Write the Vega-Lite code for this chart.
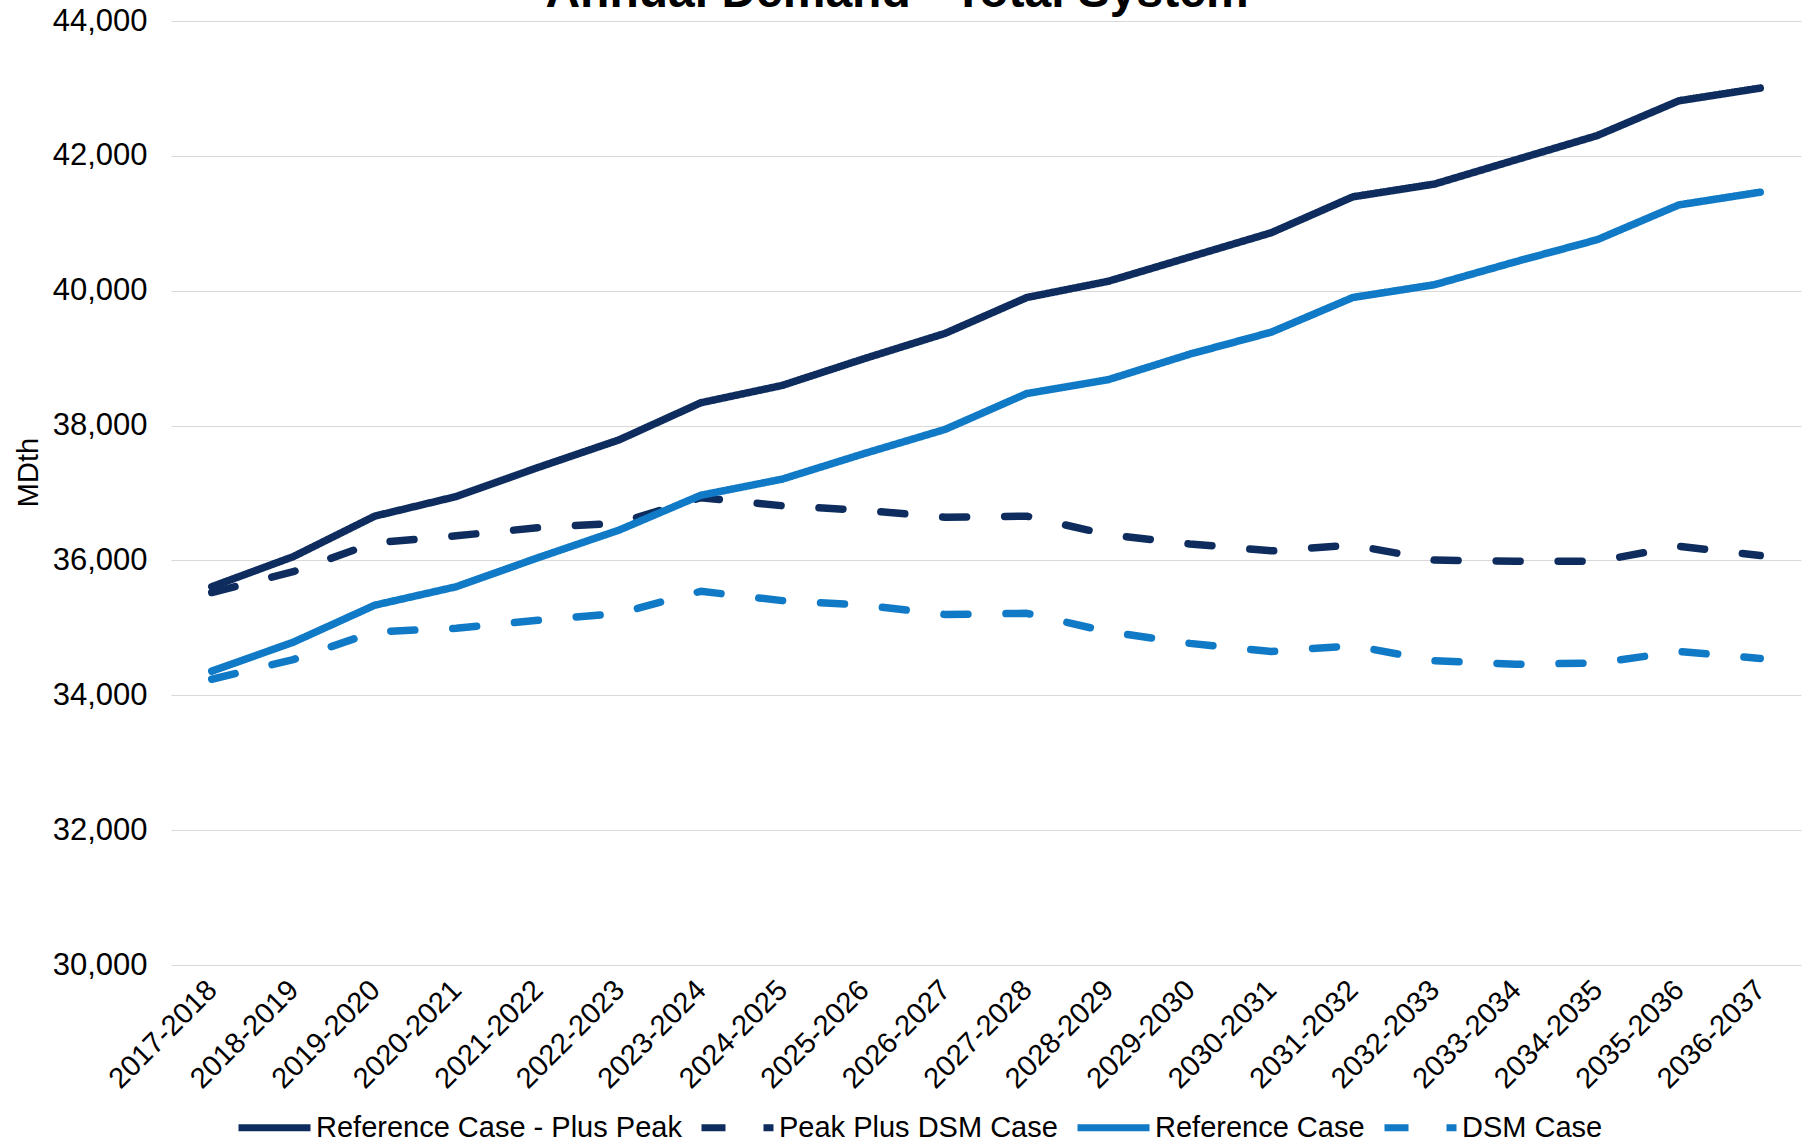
{
  "$schema": "https://vega.github.io/schema/vega-lite/v6.json",
  "autosize": {"type": "none"},
  "width": 1630,
  "height": 944,
  "padding": {"left": 171, "top": 21, "right": 13, "bottom": 178},
  "background": "white",
  "title": {
    "text": "Annual Demand - Total System",
    "anchor": "middle",
    "frame": "group",
    "fontSize": 48,
    "fontWeight": "bold",
    "font": "Liberation Sans",
    "color": "#000000",
    "baseline": "bottom",
    "offset": -60,
    "dx": -89
  },
  "config": {
    "font": "Liberation Sans",
    "view": {"stroke": null}
  },
  "data": {
    "values": [
      {"year": "2017-2018", "series": "Reference Case - Plus Peak", "value": 35610},
      {"year": "2018-2019", "series": "Reference Case - Plus Peak", "value": 36056},
      {"year": "2019-2020", "series": "Reference Case - Plus Peak", "value": 36657},
      {"year": "2020-2021", "series": "Reference Case - Plus Peak", "value": 36948},
      {"year": "2021-2022", "series": "Reference Case - Plus Peak", "value": 37377},
      {"year": "2022-2023", "series": "Reference Case - Plus Peak", "value": 37789},
      {"year": "2023-2024", "series": "Reference Case - Plus Peak", "value": 38338},
      {"year": "2024-2025", "series": "Reference Case - Plus Peak", "value": 38596},
      {"year": "2025-2026", "series": "Reference Case - Plus Peak", "value": 38990},
      {"year": "2026-2027", "series": "Reference Case - Plus Peak", "value": 39368},
      {"year": "2027-2028", "series": "Reference Case - Plus Peak", "value": 39899},
      {"year": "2028-2029", "series": "Reference Case - Plus Peak", "value": 40140},
      {"year": "2029-2030", "series": "Reference Case - Plus Peak", "value": 40500},
      {"year": "2030-2031", "series": "Reference Case - Plus Peak", "value": 40860},
      {"year": "2031-2032", "series": "Reference Case - Plus Peak", "value": 41392},
      {"year": "2032-2033", "series": "Reference Case - Plus Peak", "value": 41581},
      {"year": "2033-2034", "series": "Reference Case - Plus Peak", "value": 41941},
      {"year": "2034-2035", "series": "Reference Case - Plus Peak", "value": 42301},
      {"year": "2035-2036", "series": "Reference Case - Plus Peak", "value": 42816},
      {"year": "2036-2037", "series": "Reference Case - Plus Peak", "value": 43005},

      {"year": "2017-2018", "series": "Peak Plus DSM Case", "value": 35524},
      {"year": "2018-2019", "series": "Peak Plus DSM Case", "value": 35833},
      {"year": "2019-2020", "series": "Peak Plus DSM Case", "value": 36262},
      {"year": "2020-2021", "series": "Peak Plus DSM Case", "value": 36365},
      {"year": "2021-2022", "series": "Peak Plus DSM Case", "value": 36485},
      {"year": "2022-2023", "series": "Peak Plus DSM Case", "value": 36554},
      {"year": "2023-2024", "series": "Peak Plus DSM Case", "value": 36931},
      {"year": "2024-2025", "series": "Peak Plus DSM Case", "value": 36811},
      {"year": "2025-2026", "series": "Peak Plus DSM Case", "value": 36743},
      {"year": "2026-2027", "series": "Peak Plus DSM Case", "value": 36640},
      {"year": "2027-2028", "series": "Peak Plus DSM Case", "value": 36657},
      {"year": "2028-2029", "series": "Peak Plus DSM Case", "value": 36382},
      {"year": "2029-2030", "series": "Peak Plus DSM Case", "value": 36245},
      {"year": "2030-2031", "series": "Peak Plus DSM Case", "value": 36142},
      {"year": "2031-2032", "series": "Peak Plus DSM Case", "value": 36228},
      {"year": "2032-2033", "series": "Peak Plus DSM Case", "value": 36005},
      {"year": "2033-2034", "series": "Peak Plus DSM Case", "value": 35988},
      {"year": "2034-2035", "series": "Peak Plus DSM Case", "value": 35988},
      {"year": "2035-2036", "series": "Peak Plus DSM Case", "value": 36211},
      {"year": "2036-2037", "series": "Peak Plus DSM Case", "value": 36073},

      {"year": "2017-2018", "series": "Reference Case", "value": 34358},
      {"year": "2018-2019", "series": "Reference Case", "value": 34787},
      {"year": "2019-2020", "series": "Reference Case", "value": 35336},
      {"year": "2020-2021", "series": "Reference Case", "value": 35610},
      {"year": "2021-2022", "series": "Reference Case", "value": 36039},
      {"year": "2022-2023", "series": "Reference Case", "value": 36451},
      {"year": "2023-2024", "series": "Reference Case", "value": 36966},
      {"year": "2024-2025", "series": "Reference Case", "value": 37206},
      {"year": "2025-2026", "series": "Reference Case", "value": 37583},
      {"year": "2026-2027", "series": "Reference Case", "value": 37944},
      {"year": "2027-2028", "series": "Reference Case", "value": 38475},
      {"year": "2028-2029", "series": "Reference Case", "value": 38681},
      {"year": "2029-2030", "series": "Reference Case", "value": 39059},
      {"year": "2030-2031", "series": "Reference Case", "value": 39385},
      {"year": "2031-2032", "series": "Reference Case", "value": 39899},
      {"year": "2032-2033", "series": "Reference Case", "value": 40088},
      {"year": "2033-2034", "series": "Reference Case", "value": 40431},
      {"year": "2034-2035", "series": "Reference Case", "value": 40757},
      {"year": "2035-2036", "series": "Reference Case", "value": 41272},
      {"year": "2036-2037", "series": "Reference Case", "value": 41461},

      {"year": "2017-2018", "series": "DSM Case", "value": 34238},
      {"year": "2018-2019", "series": "DSM Case", "value": 34529},
      {"year": "2019-2020", "series": "DSM Case", "value": 34941},
      {"year": "2020-2021", "series": "DSM Case", "value": 34993},
      {"year": "2021-2022", "series": "DSM Case", "value": 35113},
      {"year": "2022-2023", "series": "DSM Case", "value": 35216},
      {"year": "2023-2024", "series": "DSM Case", "value": 35542},
      {"year": "2024-2025", "series": "DSM Case", "value": 35404},
      {"year": "2025-2026", "series": "DSM Case", "value": 35336},
      {"year": "2026-2027", "series": "DSM Case", "value": 35198},
      {"year": "2027-2028", "series": "DSM Case", "value": 35216},
      {"year": "2028-2029", "series": "DSM Case", "value": 34941},
      {"year": "2029-2030", "series": "DSM Case", "value": 34770},
      {"year": "2030-2031", "series": "DSM Case", "value": 34649},
      {"year": "2031-2032", "series": "DSM Case", "value": 34735},
      {"year": "2032-2033", "series": "DSM Case", "value": 34512},
      {"year": "2033-2034", "series": "DSM Case", "value": 34461},
      {"year": "2034-2035", "series": "DSM Case", "value": 34478},
      {"year": "2035-2036", "series": "DSM Case", "value": 34649},
      {"year": "2036-2037", "series": "DSM Case", "value": 34547}
    ]
  },
  "mark": {"type": "line", "strokeWidth": 7.5, "strokeCap": "round", "strokeJoin": "round"},
  "encoding": {
    "x": {
      "field": "year",
      "type": "ordinal",
      "sort": null,
      "scale": {"paddingInner": 0, "paddingOuter": 0.5},
      "axis": {
        "title": null,
        "labelAngle": -45,
        "labelAlign": "right",
        "labelBaseline": "middle",
        "labelFontSize": 29,
        "labelColor": "#000000",
        "labelPadding": 20,
        "ticks": false,
        "domain": false,
        "grid": false
      }
    },
    "y": {
      "field": "value",
      "type": "quantitative",
      "scale": {"domain": [30000, 44000], "nice": false, "zero": false},
      "axis": {
        "title": "MDth",
        "titleFontSize": 29,
        "titleFontWeight": "normal",
        "titleColor": "#000000",
        "titleX": -134,
        "titleY": 451,
        "titleAngle": -90,
        "titleAlign": "center",
        "titleBaseline": "alphabetic",
        "values": [30000, 32000, 34000, 36000, 38000, 40000, 42000, 44000],
        "format": ",.0f",
        "labelFontSize": 31,
        "labelColor": "#000000",
        "labelPadding": 24,
        "ticks": false,
        "domain": false,
        "grid": true,
        "gridColor": "#d9d9d9",
        "gridWidth": 1.2
      }
    },
    "color": {
      "field": "series",
      "type": "nominal",
      "scale": {
        "domain": ["Reference Case - Plus Peak", "Peak Plus DSM Case", "Reference Case", "DSM Case"],
        "range": ["#0e2d5e", "#0e2d5e", "#107ac6", "#107ac6"]
      },
      "legend": {
        "title": null,
        "orient": "none",
        "direction": "horizontal",
        "legendX": 64,
        "legendY": 1067,
        "symbolType": "stroke",
        "symbolSize": 5184,
        "symbolStrokeWidth": 7,
        "labelFontSize": 29,
        "labelColor": "#000000",
        "labelOffset": 2,
        "columnPadding": 5,
        "labelLimit": 600
      }
    },
    "strokeDash": {
      "field": "series",
      "type": "nominal",
      "scale": {
        "domain": ["Reference Case - Plus Peak", "Peak Plus DSM Case", "Reference Case", "DSM Case"],
        "range": [[1, 0], [24, 38], [1, 0], [24, 38]]
      },
      "legend": {
        "title": null,
        "orient": "none",
        "direction": "horizontal",
        "legendX": 64,
        "legendY": 1067,
        "symbolType": "stroke",
        "symbolSize": 5184,
        "symbolStrokeWidth": 7,
        "labelFontSize": 29,
        "labelColor": "#000000",
        "labelOffset": 2,
        "columnPadding": 5,
        "labelLimit": 600
      }
    }
  }
}
